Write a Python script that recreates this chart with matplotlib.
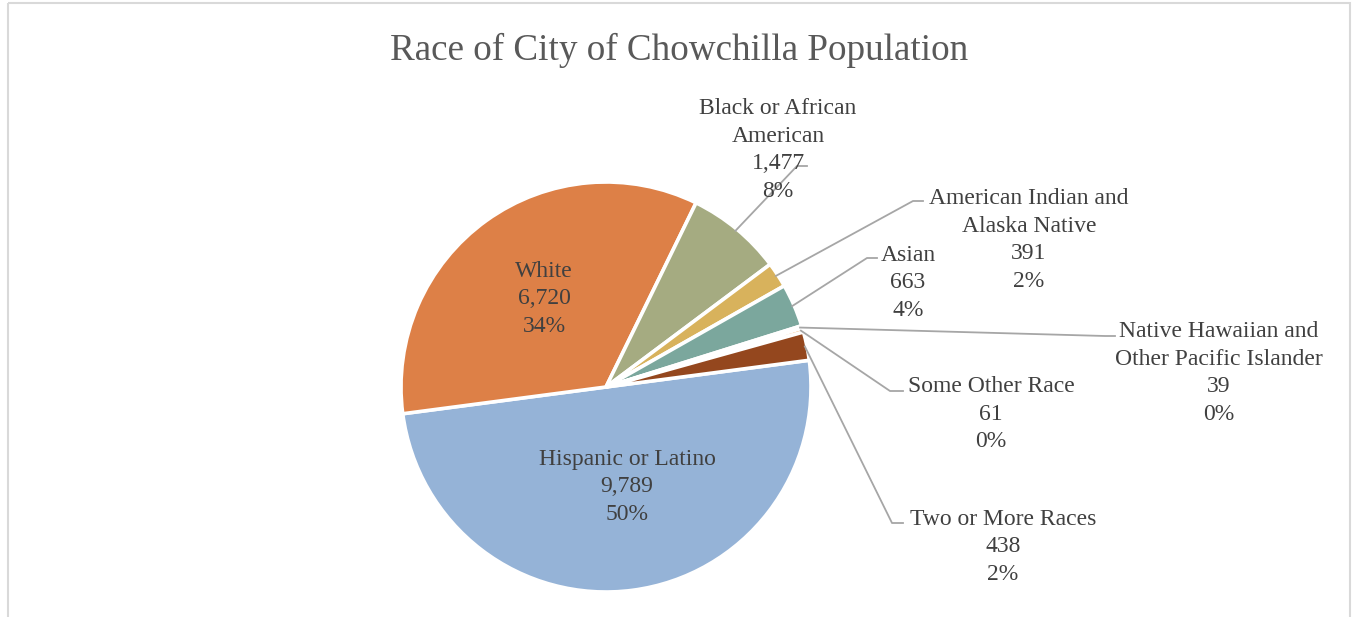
import matplotlib
matplotlib.use("Agg")
import matplotlib.pyplot as plt
from matplotlib.patches import Rectangle
import numpy as np

# ---- data ----
categories = ["Hispanic or Latino", "White", "Black or African American",
              "American Indian and Alaska Native", "Asian",
              "Native Hawaiian and Other Pacific Islander",
              "Some Other Race", "Two or More Races"]
values = [9789, 6720, 1477, 391, 663, 39, 61, 438]
pct_labels = ["50%", "34%", "8%", "2%", "4%", "0%", "0%", "2%"]
display_names = ["Hispanic or Latino", "White", "Black or African\nAmerican",
                 "American Indian and\nAlaska Native", "Asian",
                 "Native Hawaiian and\nOther Pacific Islander",
                 "Some Other Race", "Two or More Races"]
colors = ["#95B3D7", "#DD8047", "#A5AB81", "#D8B25C", "#7BA79D",
          "#968C8C", "#F07F09", "#94471E"]
title = "Race of City of Chowchilla Population"

# ---- layout (pixels) ----
W, H = 1353, 617
cx, cy, R = 606, 387, 205
# label centers
label_pos = [(627, 487), (544, 299), (778, 150), (1029, 240),
             (908, 283), (1219, 373), (991, 414), (1003, 547)]
# leader elbows: (elbow, end) or None
leaders = [None, None,
           [(797, 166), (807, 166)],
           [(913, 201), (923, 201)],
           [(867, 258), (877, 258)],
           [(1105, 336), (1115, 336)],
           [(890, 391), (903, 391)],
           [(892, 523), (903, 523)]]

plt.rcParams['font.family'] = ['Liberation Serif', 'DejaVu Serif']
fig = plt.figure(figsize=(W / 100, H / 100), dpi=100)

ax = fig.add_axes([(cx - R) / W, (H - cy - R) / H, 2 * R / W, 2 * R / H])
wedges, _ = ax.pie(values, colors=colors, startangle=7.5, counterclock=False,
                   radius=1.0,
                   wedgeprops=dict(edgecolor='white', linewidth=2.6))
ax.set_xlim(-1, 1)
ax.set_ylim(-1, 1)
ax.set_aspect('equal')
ax.axis('off')

# overlay axes in pixel coords, drawn above the pie
ov = fig.add_axes([0, 0, 1, 1])
ov.set_xlim(0, W)
ov.set_ylim(H, 0)
ov.axis('off')
ov.set_zorder(5)
ov.patch.set_visible(False)

# frame
ov.add_patch(Rectangle((7.5, 3), 1342.5, 640, fill=False, edgecolor='#D9D9D9',
                       linewidth=1.5, zorder=0))

ov.text(W / 2 + 3, 50, title, ha='center', va='center', fontsize=26.7,
        color='#595959')

to_ov = ax.transData + ov.transData.inverted()
for i, w in enumerate(wedges):
    txt = f"{display_names[i]}\n{values[i]:,}\n{pct_labels[i]}"
    lx, ly = label_pos[i]
    ov.text(lx, ly, txt, ha='center', va='center', multialignment='center',
            fontsize=17, color='#404040', linespacing=1.42, zorder=5)
    if leaders[i] is not None:
        th = np.deg2rad((w.theta1 + w.theta2) / 2)
        sx, sy = to_ov.transform((np.cos(th) * 0.99, np.sin(th) * 0.99))
        pts = [(sx, sy)] + leaders[i]
        xs, ys = zip(*pts)
        ov.plot(xs, ys, color='#A6A6A6', linewidth=1.3, zorder=4)

fig.savefig("out.png", dpi=100)
